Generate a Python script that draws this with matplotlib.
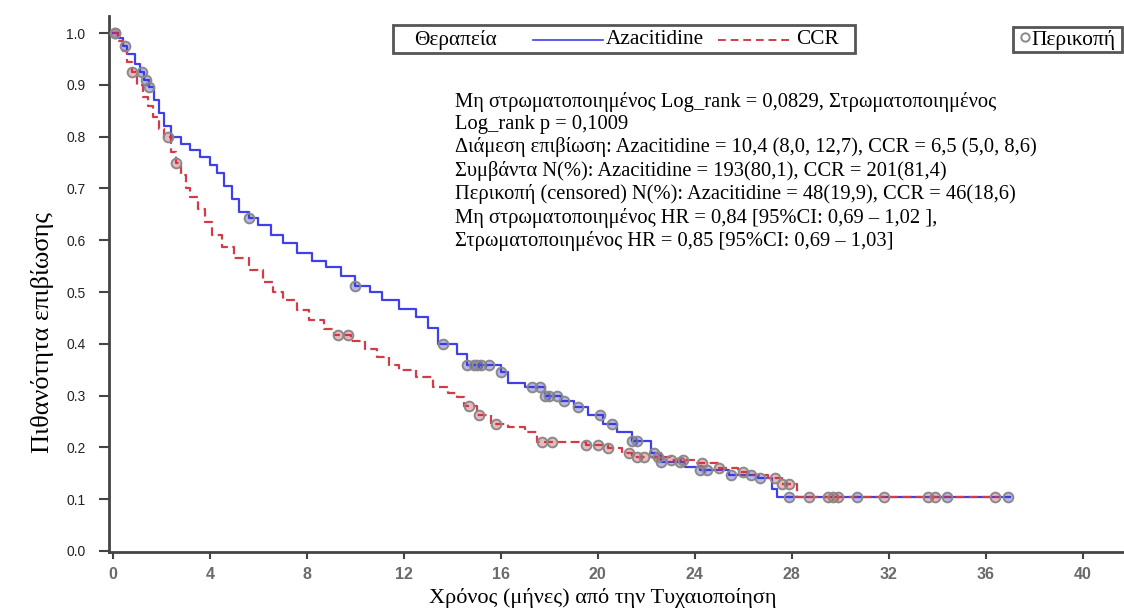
import numpy as np
import matplotlib.pyplot as plt
from matplotlib.patches import Rectangle
from matplotlib.lines import Line2D

# Kaplan-Meier steps (time in months, survival after step)
aza_time = [0, 0.2, 0.4, 0.6, 0.9, 1.1, 1.3, 1.5, 1.7, 1.9, 2.1, 2.4, 2.8, 3.2, 3.6,
            4.0, 4.3, 4.6, 4.9, 5.2, 5.6, 6.0, 6.5, 7.0, 7.6, 8.2, 8.8, 9.4, 10.0,
            10.6, 11.1, 11.8, 12.5, 13.0, 13.4, 14.2, 14.6, 16.0, 16.3, 17.0, 17.8,
            18.5, 19.0, 19.6, 20.2, 20.8, 21.4, 22.2, 22.6, 23.6, 24.2, 25.4, 26.6,
            27.2, 27.4, 37.0]
aza_surv = [1.0, 0.99, 0.975, 0.96, 0.94, 0.925, 0.91, 0.895, 0.87, 0.845, 0.82, 0.80,
            0.785, 0.775, 0.76, 0.745, 0.73, 0.705, 0.68, 0.655, 0.643, 0.63, 0.61,
            0.594, 0.575, 0.56, 0.548, 0.53, 0.512, 0.50, 0.485, 0.467, 0.452, 0.43,
            0.40, 0.38, 0.359, 0.345, 0.325, 0.317, 0.30, 0.29, 0.278, 0.262, 0.245,
            0.23, 0.212, 0.19, 0.172, 0.162, 0.156, 0.147, 0.14, 0.12, 0.104, 0.104]
aza_cens = [0.1, 0.5, 1.2, 1.35, 1.5, 5.6, 10.0, 13.6, 14.6, 14.9, 15.0, 15.2, 15.5,
            16.0, 17.3, 17.6, 17.8, 18.0, 18.3, 18.6, 19.2, 20.1, 20.6, 21.4, 21.6,
            22.3, 22.6, 23.4, 24.2, 24.5, 25.5, 26.3, 26.7, 27.9, 30.7, 34.4, 36.9]

ccr_time = [0, 0.2, 0.4, 0.6, 0.8, 1.0, 1.25, 1.45, 1.65, 1.9, 2.1, 2.4, 2.6, 2.8, 3.0,
            3.2, 3.5, 3.8, 4.1, 4.5, 5.0, 5.6, 6.2, 6.6, 7.0, 7.6, 8.1, 8.7, 9.1, 9.8,
            10.4, 10.9, 11.4, 11.8, 12.5, 13.2, 13.8, 14.2, 14.5, 15.0, 15.6, 16.3,
            17.0, 17.5, 19.5, 20.4, 21.0, 21.4, 23.0, 24.0, 25.0, 25.8, 26.3, 27.0,
            27.6, 28.2, 36.5]
ccr_surv = [1.0, 0.985, 0.965, 0.945, 0.925, 0.90, 0.877, 0.86, 0.838, 0.815, 0.80,
            0.77, 0.75, 0.725, 0.70, 0.683, 0.66, 0.635, 0.61, 0.587, 0.565, 0.542,
            0.52, 0.50, 0.485, 0.465, 0.446, 0.428, 0.417, 0.405, 0.39, 0.375, 0.36,
            0.35, 0.335, 0.317, 0.305, 0.297, 0.28, 0.262, 0.245, 0.24, 0.23, 0.21,
            0.205, 0.198, 0.19, 0.182, 0.176, 0.17, 0.16, 0.152, 0.147, 0.14, 0.13,
            0.104, 0.104]
ccr_cens = [0.1, 0.8, 2.27, 2.6, 9.3, 9.7, 14.7, 15.1, 15.8, 17.7, 18.1, 19.5, 20.0,
            20.4, 21.3, 21.6, 21.9, 22.5, 23.0, 23.5, 24.3, 25.0, 26.0, 27.3, 27.6,
            27.9, 28.7, 29.5, 29.7, 29.9, 31.8, 33.6, 33.9, 36.4]

x_ticks = [0, 4, 8, 12, 16, 20, 24, 28, 32, 36, 40]
y_ticks = [0.0, 0.1, 0.2, 0.3, 0.4, 0.5, 0.6, 0.7, 0.8, 0.9, 1.0]

stats_lines = [
    "Μη στρωματοποιημένος Log_rank = 0,0829, Στρωματοποιημένος",
    "Log_rank p = 0,1009",
    "Διάμεση επιβίωση: Azacitidine = 10,4 (8,0, 12,7), CCR = 6,5 (5,0, 8,6)",
    "Συμβάντα N(%): Azacitidine = 193(80,1), CCR = 201(81,4)",
    "Περικοπή (censored) N(%): Azacitidine = 48(19,9), CCR = 46(18,6)",
    "Μη στρωματοποιημένος HR = 0,84 [95%CI: 0,69 – 1,02 ],",
    "Στρωματοποιημένος HR = 0,85 [95%CI: 0,69 – 1,03]",
]

blue = '#4040ea'
red = '#d23c46'
serif = ['Liberation Serif', 'DejaVu Serif']
sans = ['Liberation Sans', 'DejaVu Sans']

fig = plt.figure(figsize=(11.24, 6.14), dpi=100)
ax = fig.add_axes([0.097, 0.101, 0.903, 0.873])


def cens_y(time, surv, cens):
    idx = np.searchsorted(time, cens, side='right') - 1
    return np.asarray(surv)[idx]


ax.step(aza_time, aza_surv, where='post', color=blue, lw=1.6, zorder=3)
ax.step(ccr_time, ccr_surv, where='post', color=red, lw=1.6,
        linestyle=(0, (4, 2)), zorder=3)
ax.plot(aza_cens, cens_y(aza_time, aza_surv, aza_cens), 'o', ms=7, mew=1.4,
        mec='#8a8a8a', mfc=(0.2, 0.2, 0.8, 0.35), zorder=4)
ax.plot(ccr_cens, cens_y(ccr_time, ccr_surv, ccr_cens), 'o', ms=7, mew=1.4,
        mec='#8a8a8a', mfc=(0.8, 0.2, 0.25, 0.35), zorder=4)

ax.set_xlim(-0.16, 41.7)
ax.set_ylim(-0.002, 1.033)
ax.set_xticks(x_ticks)
ax.set_yticks(y_ticks)
ax.set_xticklabels([str(t) for t in x_ticks], family=sans, fontsize=11.5,
                   fontweight='bold', color='#6a6a6a')
ax.set_yticklabels(['%.1f' % t for t in y_ticks], family=sans, fontsize=10, color='#222222')
ax.tick_params(axis='y', length=7, width=1.5, pad=10, color='#444444')
ax.tick_params(axis='x', length=5, width=1.5, pad=6, color='#444444')
for side in ['top', 'right']:
    ax.spines[side].set_visible(False)
for side in ['left', 'bottom']:
    ax.spines[side].set_linewidth(2)
    ax.spines[side].set_color('#444444')

ax.set_xlabel('Χρόνος (μήνες) από την Τυχαιοποίηση', family=serif, fontsize=16)
ax.xaxis.set_label_coords(0.486, -0.068)
ax.set_ylabel('Πιθανότητα επιβίωσης', family=serif, fontsize=19)
ax.yaxis.set_label_coords(-0.054, 0.41)

ax.text(0.341, 0.859, '\n'.join(stats_lines), transform=ax.transAxes, family=serif,
        fontsize=14.8, va='top', ha='left', linespacing=1.23)

# treatment legend box
ax.add_patch(Rectangle((0.280, 0.931), 0.455, 0.052, transform=ax.transAxes,
                       fill=False, lw=2, ec='#555555', clip_on=False, zorder=5))
ax.text(0.301, 0.956, 'Θεραπεία', transform=ax.transAxes, family=serif,
        fontsize=15.3, va='center')
ax.add_line(Line2D([0.418, 0.487], [0.956, 0.956], transform=ax.transAxes,
                   color=blue, lw=1.2))
ax.text(0.489, 0.956, 'Azacitidine', transform=ax.transAxes, family=serif,
        fontsize=15.3, va='center')
ax.add_line(Line2D([0.600, 0.671], [0.956, 0.956], transform=ax.transAxes,
                   color=red, lw=1.4, linestyle=(0, (4, 2.5))))
ax.text(0.677, 0.956, 'CCR', transform=ax.transAxes, family=serif,
        fontsize=15.3, va='center')

# censoring legend box
ax.add_patch(Rectangle((0.891, 0.933), 0.107, 0.047, transform=ax.transAxes,
                       fill=False, lw=2, ec='#555555', clip_on=False, zorder=5))
ax.add_line(Line2D([0.902], [0.960], transform=ax.transAxes, marker='o', ms=6,
                   mew=1.4, mec='#8a8a8a', mfc='none', clip_on=False))
ax.text(0.909, 0.956, 'Περικοπή', transform=ax.transAxes, family=serif,
        fontsize=15.5, va='center')

fig.savefig('out.png', dpi=100)
